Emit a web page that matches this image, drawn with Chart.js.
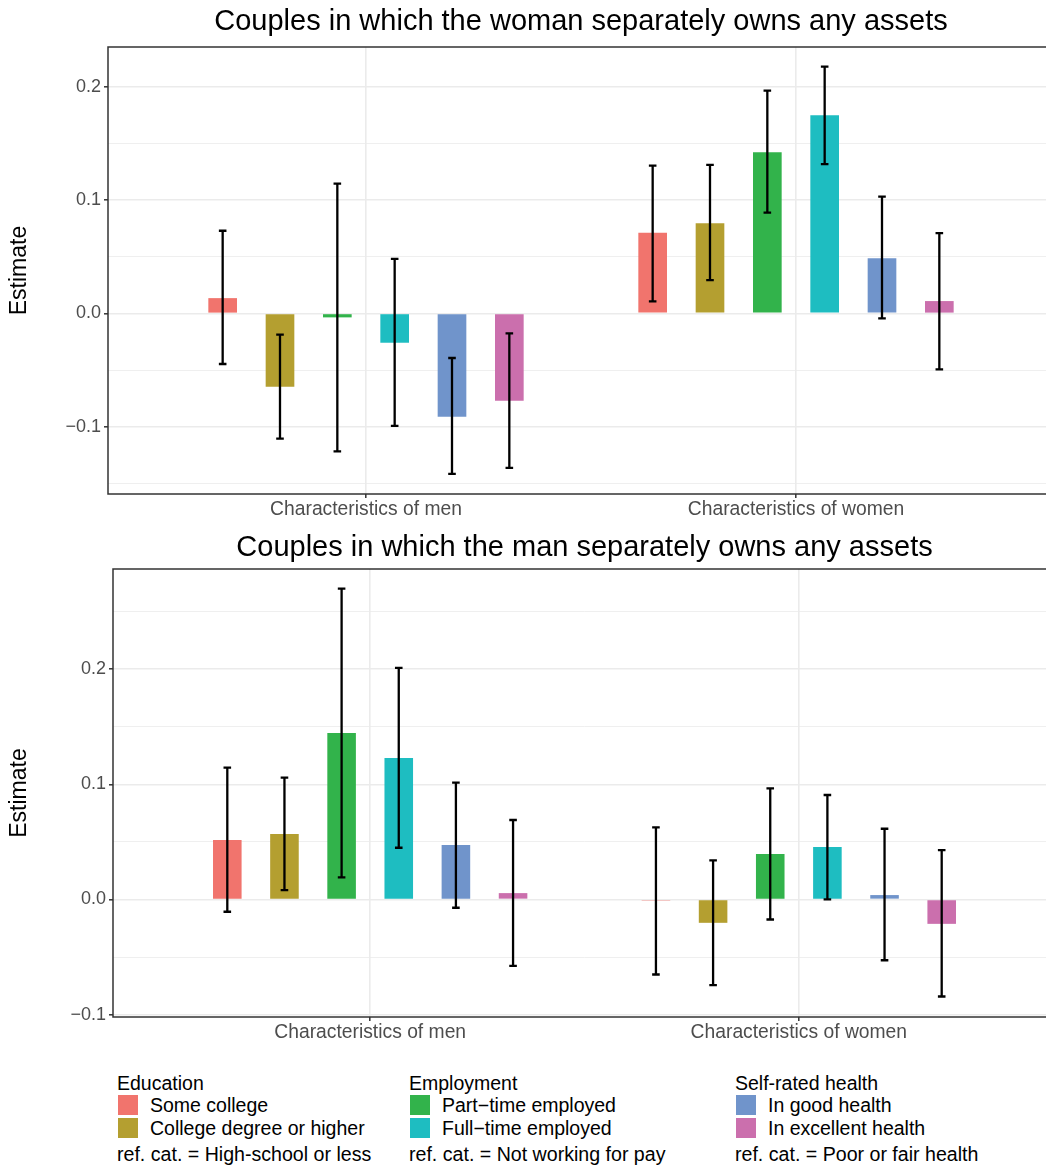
<!DOCTYPE html>
<html>
<head>
<meta charset="utf-8">
<script src="https://cdn.jsdelivr.net/npm/chart.js@4/dist/chart.umd.min.js"></script>
<style>
  body { margin: 0; width: 1046px; height: 1168px; overflow: hidden; background: #fff; position: relative;
         font-family: "Liberation Sans", Arial, Helvetica, sans-serif; }
  .panel { position: absolute; left: 0; }
  .leg-title { position: absolute; font-size: 19.5px; line-height: 22px; white-space: nowrap; color: #000; }
  .leg-key { position: absolute; width: 20px; height: 20px; }
  .leg-lab { position: absolute; font-size: 19.5px; line-height: 20px; white-space: nowrap; color: #000; }
</style>
</head>
<body>
<div class="panel" style="top:0"><canvas id="womanChart" width="1054" height="525"></canvas></div>
<div class="panel" style="top:525px"><canvas id="manChart" width="1056" height="525"></canvas></div>
<div id="legend"></div>

<script>
// categories and series
const groups = ['Characteristics of men', 'Characteristics of women'];
const seriesLabels = ['Some college', 'College degree or higher', 'Part\u2212time employed',
                      'Full\u2212time employed', 'In good health', 'In excellent health'];
const seriesColors = ['#F1746D', '#B49F30', '#32B34B', '#1EBDC1', '#7094CB', '#CB6FAD'];

// panel 1: woman separately owns assets
const wMenEst = [0.0135, -0.0647, -0.0035, -0.0259, -0.0912, -0.0771];
const wMenLo  = [-0.0447, -0.1106, -0.1218, -0.0994, -0.1418, -0.1365];
const wMenHi  = [0.0730, -0.0188, 0.1147, 0.0482, -0.0394, -0.0176];
const wWomenEst = [0.0712, 0.0797, 0.1424, 0.1750, 0.0488, 0.0109];
const wWomenLo  = [0.0106, 0.0294, 0.0891, 0.1318, -0.0044, -0.0494];
const wWomenHi  = [0.1306, 0.1312, 0.1968, 0.2180, 0.1032, 0.0709];

// panel 2: man separately owns assets
const mMenEst = [0.0516, 0.0568, 0.1446, 0.1229, 0.0472, 0.0055];
const mMenLo  = [-0.0107, 0.0081, 0.0191, 0.0449, -0.0072, -0.0577];
const mMenHi  = [0.1145, 0.1058, 0.2699, 0.2012, 0.1014, 0.0690];
const mWomenEst = [-0.0010, -0.0203, 0.0394, 0.0455, 0.0038, -0.0212];
const mWomenLo  = [-0.0652, -0.0745, -0.0174, 0.0000, -0.0528, -0.0843];
const mWomenHi  = [0.0626, 0.0339, 0.0965, 0.0907, 0.0614, 0.0429];

// legend groups
const legendTitles = ['Education', 'Employment', 'Self-rated health'];
const legendRefs = ['ref. cat. = High-school or less', 'ref. cat. = Not working for pay', 'ref. cat. = Poor or fair health'];

const FONT = '"Liberation Sans", Arial, Helvetica, sans-serif';

function isMajor(v) {
  return Math.abs(v * 10 - Math.round(v * 10)) < 1e-6;
}

// error bars drawn on top of the bars
const errorBars = {
  id: 'errorBars',
  afterDatasetsDraw(chart) {
    const ctx = chart.ctx;
    const y = chart.scales.y;
    ctx.save();
    ctx.strokeStyle = '#000';
    ctx.lineWidth = 2.3;
    chart.data.datasets.forEach((ds, d) => {
      chart.getDatasetMeta(d).data.forEach((bar, i) => {
        const raw = ds.data[i];
        const yLo = y.getPixelForValue(raw.lo);
        const yHi = y.getPixelForValue(raw.hi);
        ctx.beginPath();
        ctx.moveTo(bar.x, yLo); ctx.lineTo(bar.x, yHi);
        ctx.moveTo(bar.x - 3.8, yLo); ctx.lineTo(bar.x + 3.8, yLo);
        ctx.moveTo(bar.x - 3.8, yHi); ctx.lineTo(bar.x + 3.8, yHi);
        ctx.stroke();
      });
    });
    ctx.restore();
  }
};

// panel border and centred title
const panelFrame = {
  id: 'panelFrame',
  afterDraw(chart, args, opts) {
    const ctx = chart.ctx;
    const a = chart.chartArea;
    ctx.save();
    ctx.strokeStyle = '#333';
    ctx.lineWidth = 1.5;
    ctx.strokeRect(a.left, a.top, a.right - a.left, a.bottom - a.top);
    ctx.fillStyle = '#000';
    ctx.font = '29px ' + FONT;
    ctx.textAlign = 'center';
    ctx.textBaseline = 'middle';
    ctx.fillText(opts.text, (a.left + a.right) / 2, opts.y);
    ctx.restore();
  }
};

function makePanel(canvasId, title, titleY, menEst, menLo, menHi, womenEst, womenLo, womenHi,
                   yMin, yMax, layout) {
  const datasets = seriesLabels.map((lab, s) => ({
    label: lab,
    backgroundColor: seriesColors[s],
    data: [
      { x: 1, y: menEst[s], lo: menLo[s], hi: menHi[s] },
      { x: 2, y: womenEst[s], lo: womenLo[s], hi: womenHi[s] }
    ],
    categoryPercentage: 0.8,
    barPercentage: 0.5
  }));

  return new Chart(document.getElementById(canvasId), {
    type: 'bar',
    data: { datasets: datasets },
    plugins: [errorBars, panelFrame],
    options: {
      responsive: false,
      animation: false,
      layout: { padding: { left: 0, right: 0, top: layout.top, bottom: 0 } },
      plugins: {
        legend: { display: false },
        tooltip: { enabled: false },
        title: { display: false },
        panelFrame: { text: title, y: titleY }
      },
      scales: {
        x: {
          type: 'linear',
          min: 0.4,
          max: 2.6,
          offset: false,
          afterBuildTicks: (scale) => { scale.ticks = groups.map((g, i) => ({ value: i + 1 })); },
          afterFit: (scale) => { scale.height = layout.xHeight; },
          ticks: {
            autoSkip: false,
            maxRotation: 0,
            padding: 0,
            color: '#4d4d4d',
            font: { family: FONT, size: 19.3 },
            callback: (v) => groups[Math.round(v) - 1] || ''
          },
          grid: { offset: false, color: '#ebebeb', lineWidth: 1.6, tickLength: 4, tickColor: '#333', tickWidth: 1.5 },
          border: { display: false }
        },
        y: {
          min: yMin,
          max: yMax,
          afterFit: (scale) => { scale.width = layout.yWidth; },
          ticks: {
            stepSize: 0.05,
            includeBounds: false,
            autoSkip: false,
            padding: 3,
            color: '#4d4d4d',
            font: { family: FONT, size: 18 },
            callback: (v) => isMajor(v) ? v.toFixed(1).replace('-', '\u2212') : ''
          },
          grid: {
            color: '#ebebeb',
            lineWidth: (c) => isMajor(c.tick.value) ? 1.6 : 0.8,
            tickLength: 4,
            tickWidth: 1.5,
            tickColor: (c) => isMajor(c.tick.value) ? '#333' : 'rgba(0,0,0,0)'
          },
          border: { display: false },
          title: {
            display: true,
            text: 'Estimate',
            color: '#000',
            font: { family: FONT, size: 23 },
            padding: { top: 6, bottom: 0 }
          }
        }
      }
    }
  });
}

makePanel('womanChart', 'Couples in which the woman separately owns any assets', 22,
          wMenEst, wMenLo, wMenHi, wWomenEst, wWomenLo, wWomenHi,
          -0.1595, 0.2353, { top: 47, xHeight: 31, yWidth: 108 });

makePanel('manChart', 'Couples in which the man separately owns any assets', 23,
          mMenEst, mMenLo, mMenHi, mWomenEst, mWomenLo, mWomenHi,
          -0.1021, 0.287, { top: 44, xHeight: 33, yWidth: 113 });

// legend below the panels
const legendX = [117, 409, 735];
const legend = document.getElementById('legend');
legendTitles.forEach((t, g) => {
  const x = legendX[g];
  let html = `<div class="leg-title" style="left:${x}px;top:1072px">${t}</div>`;
  for (let k = 0; k < 2; k++) {
    const s = g * 2 + k;
    const top = 1095 + k * 23;
    html += `<div class="leg-key" style="left:${x + 1}px;top:${top}px;background:${seriesColors[s]}"></div>`;
    html += `<div class="leg-lab" style="left:${x + 33}px;top:${top}px">${seriesLabels[s]}</div>`;
  }
  html += `<div class="leg-title" style="left:${x}px;top:1143px;font-size:19.6px">${legendRefs[g]}</div>`;
  legend.insertAdjacentHTML('beforeend', html);
});
</script>
</body>
</html>
